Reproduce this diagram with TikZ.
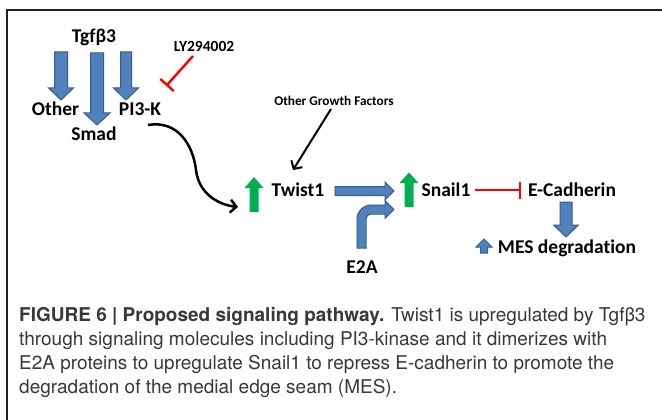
\documentclass[tikz,border=0pt]{standalone}
\usepackage{fontspec}
\setmainfont[Ligatures=NoCommon]{Carlito}
\newfontfamily\capfont{TeX Gyre Heros}
\usetikzlibrary{arrows.meta}
\definecolor{boxblue}{HTML}{4F81BD}
\definecolor{boxedge}{HTML}{385D8A}
\definecolor{upgreen}{HTML}{00B050}
\definecolor{inhred}{HTML}{FF0000}
\definecolor{framegray}{HTML}{231F20}
\begin{document}
\begin{tikzpicture}[x=1pt,y=-1pt,
  lbl/.style={font=\bfseries\fontsize{19.5}{20}\selectfont, anchor=base, inner sep=0pt},
  midlbl/.style={font=\bfseries\fontsize{15.5}{16}\selectfont, anchor=base, inner sep=0pt},
  smalllbl/.style={font=\bfseries\fontsize{13.3}{14}\selectfont, anchor=base, inner sep=0pt},
  blockarrow/.style={fill=boxblue, draw=boxedge, line width=1pt, line join=miter},
  greenarrow/.style={fill=upgreen},
  inhibit/.style={draw=inhred, line width=2.4pt},
  actarrow/.style={draw=black, line width=2.5pt, -{Straight Barb[length=6pt,width=13pt]}},
  caption/.style={font=\capfont\fontsize{19}{24}\selectfont, text=black!78, anchor=base west, inner sep=0pt}
]
\useasboundingbox (0,0) rectangle (662,420);
\fill[white] (0,0) rectangle (662,420);

% frame (top and left edges)
\draw[line width=2.2pt, framegray] (7,420) -- (7,10) -- (662,10);

% labels
\node[lbl] (tgf) at (94,43) {Tgfβ3};
\node[lbl] (other) at (55.5,115) {Other};
\node[lbl] (pik) at (140,115) {PI3-K};
\node[lbl] (smad) at (94,140) {Smad};
\node[midlbl] (ly) at (204,52) {LY294002};
\node[smalllbl] (ogf) at (334,106) {Other Growth Factors};
\node[lbl] (twist) at (298,196) {Twist1};
\node[lbl] (snail) at (446,196) {Snail1};
\node[lbl] (ecad) at (572,196) {E-Cadherin};
\node[lbl] (mes) at (567,253) {MES degradation};
\node[lbl] (e2a) at (362,273) {E2A};

% Tgfb3 block arrows
\path[blockarrow] (54.5,52) -- (67.5,52) -- (67.5,88) -- (73.5,88) -- (61,100) -- (48.5,88) -- (54.5,88) -- cycle;
\path[blockarrow] (90.5,53) -- (103.5,53) -- (103.5,113) -- (110,113) -- (97,125) -- (84,113) -- (90.5,113) -- cycle;
\path[blockarrow] (120.5,52) -- (131.5,52) -- (131.5,88) -- (138.5,88) -- (126,100) -- (113.5,88) -- (120.5,88) -- cycle;

% E-Cadherin down to MES
\path[blockarrow] (560,202) -- (572,202) -- (572,225) -- (578.5,225) -- (566,237) -- (553.5,225) -- (560,225) -- cycle;
% small up arrow before MES
\path[blockarrow] (480.5,253) -- (487.5,253) -- (487.5,247) -- (492,247) -- (484,239) -- (476,247) -- (480.5,247) -- cycle;

% Twist1 to Snail1
\path[blockarrow] (335,186.5) -- (385,186.5) -- (385,182) -- (394,191) -- (385,200) -- (385,195.5) -- (335,195.5) -- cycle;
% bent arrow from E2A
\path[blockarrow] (357,248) -- (357,219) .. controls (357,211.3) and (363.3,205) .. (371,205)
  -- (385,205) -- (385,200.5) -- (394,209.5) -- (385,218.5) -- (385,214)
  -- (371,214) .. controls (368.2,214) and (366,216.2) .. (366,219) -- (366,248) -- cycle;

% green up arrows
\path[greenarrow] (249.5,212) -- (258.5,212) -- (258.5,188) -- (263.5,188) -- (254,177) -- (244.5,188) -- (249.5,188) -- cycle;
\path[greenarrow] (404.5,207) -- (413.5,207) -- (413.5,183) -- (418.5,183) -- (409,172.5) -- (399.5,183) -- (404.5,183) -- cycle;

% connectors
\coordinate (pikout) at (148,125);
\coordinate (twistin) at (238,207);
\draw[actarrow] (pikout) .. controls (178,120) and (193,145) .. (196,170)
  .. controls (199,195) and (220,205) .. (twistin);
\coordinate (ogfout) at (331,109);
\coordinate (ogfin) at (293,170);
\draw[actarrow, line width=2pt] (ogfout) -- (ogfin);

% inhibitions
\coordinate (lyout) at (193,56);
\coordinate (lyend) at (167,85);
\draw[inhibit] (lyout) -- (lyend);
\draw[inhibit] (160.3,79) -- (173.7,91);
\coordinate (snout) at (475,190);
\coordinate (snend) at (520,190);
\draw[inhibit] (snout) -- (snend);
\draw[inhibit] (520,182) -- (520,199);

% caption
\node[caption] (cap1) at (19,321) {\textbf{FIGURE 6 | Proposed signaling pathway.} Twist1 is upregulated by Tgfβ3};
\node[caption] (cap2) at (19,345) {through signaling molecules including PI3-kinase and it dimerizes with};
\node[caption] (cap3) at (19,369) {E2A proteins to upregulate Snail1 to repress E-cadherin to promote the};
\node[caption] (cap4) at (19,393) {degradation of the medial edge seam (MES).};
\end{tikzpicture}
\end{document}
